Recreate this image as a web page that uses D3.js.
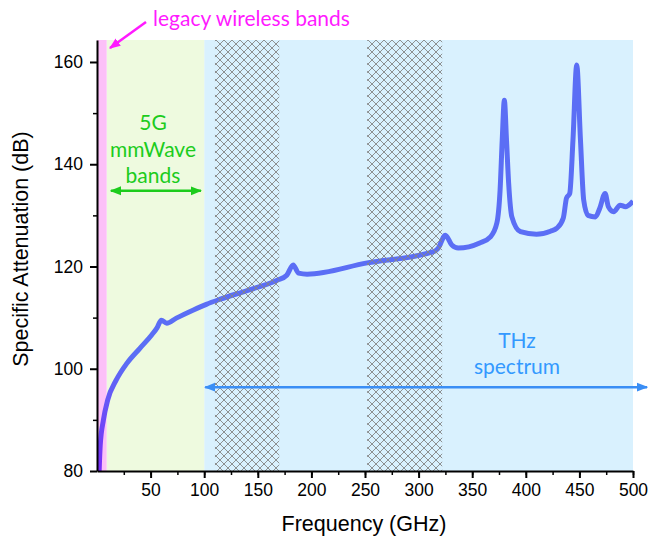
<!DOCTYPE html>
<html>
<head>
<meta charset="utf-8">
<script src="https://cdn.jsdelivr.net/npm/d3@7"></script>
<style>
  body { margin: 0; background: #fff; }
  .axis path, .axis line { stroke: #000; }
  .axis text { font-family: "Liberation Sans", Arial, sans-serif; font-size: 17.5px; fill: #000; }
  .ann { font-family: Lato, "Open Sans", sans-serif; font-size: 21px; }
  .title { font-family: "Liberation Sans", Arial, sans-serif; font-size: 21.5px; }
</style>
</head>
<body>
<div id="chart"></div>
<script>
// attenuation curve
var freq = [2, 3, 6, 10, 18, 28, 40, 51, 56, 60, 65, 74, 90, 102, 115, 140, 168, 177, 183, 188, 196,
    252, 314, 318, 325, 331, 337, 357, 367, 373, 376, 378, 380, 382, 384, 387, 395, 410, 423, 429,
    435, 438, 441, 444, 447.5, 451, 454, 458, 465, 469, 474, 477, 482, 488, 493, 500];
var atten = [80, 85, 90, 93.9, 97.8, 101.1, 104, 106.6, 108, 109.5, 108.9, 109.9, 111.5, 112.6, 113.6, 115.3, 117.3, 118.3, 120.3, 118.7, 118.5,
    120.7, 122.9, 123.5, 126.1, 124.2, 123.6, 124.6, 125.8, 128.5, 134.9, 144.7, 152.5, 144.7, 136.3, 129.7, 126.8, 126.3, 126.9, 127.5,
    129.5, 133.4, 134.3, 144.7, 159.4, 144.7, 133, 130, 129.7, 131.4, 134.3, 131.7, 130.7, 132, 131.7, 132.8];

// shaded bands [from, to] in GHz
var legacyBand = [0, 9];
var mmWaveBand = [9, 100];
var thzBand = [100, 500];
var hatchBands = [[110, 170], [252, 322]];

var xTicks = [50, 100, 150, 200, 250, 300, 350, 400, 450, 500];
var yTicks = [80, 100, 120, 140, 160];

var W = 649, H = 539;
var x = d3.scaleLinear().domain([0, 500]).range([97, 633]);
var y = d3.scaleLinear().domain([80, 164.3]).range([471, 40]);

var svg = d3.select("#chart").append("svg")
    .attr("width", W)
    .attr("height", H);

var defs = svg.append("defs");

var pat = defs.append("pattern")
    .attr("id", "hatch")
    .attr("patternUnits", "userSpaceOnUse")
    .attr("width", 8).attr("height", 8);
pat.append("path")
    .attr("d", "M0,0L8,8M8,0L0,8")
    .attr("stroke", "#858585")
    .attr("stroke-width", 0.9)
    .attr("fill", "none");

defs.append("clipPath").attr("id", "plotclip")
  .append("rect")
    .attr("x", x(0)).attr("y", y(164.3))
    .attr("width", x(500) - x(0)).attr("height", y(80) - y(164.3));

var grad = defs.append("linearGradient")
    .attr("id", "linegrad")
    .attr("gradientUnits", "userSpaceOnUse")
    .attr("x1", 0).attr("y1", y(80))
    .attr("x2", 0).attr("y2", y(102));
grad.append("stop").attr("offset", 0).attr("stop-color", "#7a2ff8");
grad.append("stop").attr("offset", 1).attr("stop-color", "#5b6ef5");

function marker(id, color) {
    defs.append("marker")
        .attr("id", id)
        .attr("viewBox", "0 0 10 10")
        .attr("refX", 9).attr("refY", 5)
        .attr("markerWidth", 4.5).attr("markerHeight", 4.5)
        .attr("orient", "auto-start-reverse")
      .append("path")
        .attr("d", "M0,1L10,5L0,9Z")
        .attr("fill", color);
}
marker("arrMag", "#ff1aff");
marker("arrGreen", "#1ccc1c");
marker("arrBlue", "#3a8ef5");

// bands
function band(b, color) {
    svg.append("rect")
        .attr("x", x(b[0])).attr("y", y(164.3))
        .attr("width", x(b[1]) - x(b[0]))
        .attr("height", y(80) - y(164.3))
        .attr("fill", color);
}
band(thzBand, "#d9f1fe");
band(mmWaveBand, "#eefadf");
band(legacyBand, "#fcc0f8");

// curve
var pts = freq.map(function(f, i) { return {f: f, a: atten[i]}; });
var line = d3.line()
    .x(function(d) { return x(d.f); })
    .y(function(d) { return y(d.a); })
    .curve(d3.curveMonotoneX);

svg.append("path")
    .datum(pts)
    .attr("clip-path", "url(#plotclip)")
    .attr("d", line)
    .attr("fill", "none")
    .attr("stroke", "url(#linegrad)")
    .attr("stroke-width", 5)
    .attr("stroke-linejoin", "round");

// hatched windows on top
hatchBands.forEach(function(b) {
    svg.append("rect")
        .attr("x", x(b[0])).attr("y", y(164.3))
        .attr("width", x(b[1]) - x(b[0]))
        .attr("height", y(80) - y(164.3))
        .attr("fill", "url(#hatch)");
});

// axes
svg.append("g").attr("class", "axis")
    .attr("transform", "translate(0," + y(80) + ")")
    .call(d3.axisBottom(x).tickValues(d3.range(25, 501, 25)).tickSize(4).tickFormat(""))
    .call(function(g) { g.select(".domain").remove(); })
    .selectAll("line").attr("stroke-width", 1.5);
svg.append("g").attr("class", "axis")
    .attr("transform", "translate(0," + y(80) + ")")
    .call(d3.axisBottom(x).tickValues(xTicks).tickSize(7).tickPadding(6).tickSizeOuter(0))
    .call(function(g) {
        g.select(".domain").attr("stroke-width", 2);
        g.selectAll("line").attr("stroke-width", 2);
    });

svg.append("g").attr("class", "axis")
    .attr("transform", "translate(" + x(0) + ",0)")
    .call(d3.axisLeft(y).tickValues([90, 110, 130, 150]).tickSize(4).tickFormat(""))
    .call(function(g) { g.select(".domain").remove(); })
    .selectAll("line").attr("stroke-width", 1.5);
svg.append("g").attr("class", "axis")
    .attr("transform", "translate(" + x(0) + ",0)")
    .call(d3.axisLeft(y).tickValues(yTicks).tickSize(7).tickPadding(7).tickSizeOuter(0))
    .call(function(g) {
        g.select(".domain").attr("stroke-width", 2);
        g.selectAll("line").attr("stroke-width", 2);
    });

// axis titles
svg.append("text").attr("class", "title")
    .attr("x", 364).attr("y", 531)
    .attr("text-anchor", "middle")
    .text("Frequency (GHz)");
svg.append("text").attr("class", "title")
    .attr("transform", "translate(28,249) rotate(-90)")
    .attr("text-anchor", "middle")
    .text("Specific Attenuation (dB)");

// annotations
svg.append("text").attr("class", "ann")
    .attr("x", 153).attr("y", 26)
    .attr("fill", "#ff1aff")
    .text("legacy wireless bands");
svg.append("line")
    .attr("x1", 146).attr("y1", 22)
    .attr("x2", 110).attr("y2", 48)
    .attr("stroke", "#ff1aff").attr("stroke-width", 2.5)
    .attr("marker-end", "url(#arrMag)");

var g5 = svg.append("text").attr("class", "ann")
    .attr("text-anchor", "middle")
    .attr("fill", "#1ccc1c");
["5G", "mmWave", "bands"].forEach(function(t, i) {
    g5.append("tspan").attr("x", 153).attr("y", 130 + i * 26.5).text(t);
});
svg.append("line")
    .attr("x1", x(13)).attr("y1", y(134.8))
    .attr("x2", x(97)).attr("y2", y(134.8))
    .attr("stroke", "#1ccc1c").attr("stroke-width", 2.5)
    .attr("marker-start", "url(#arrGreen)")
    .attr("marker-end", "url(#arrGreen)");

var thz = svg.append("text").attr("class", "ann")
    .attr("text-anchor", "middle")
    .attr("fill", "#3399ff");
["THz", "spectrum"].forEach(function(t, i) {
    thz.append("tspan").attr("x", 517).attr("y", 348 + i * 26).text(t);
});
svg.append("line")
    .attr("x1", x(100) + 1).attr("y1", y(96.4))
    .attr("x2", 647).attr("y2", y(96.4))
    .attr("stroke", "#3a8ef5").attr("stroke-width", 2.5)
    .attr("marker-start", "url(#arrBlue)")
    .attr("marker-end", "url(#arrBlue)");
</script>
</body>
</html>
